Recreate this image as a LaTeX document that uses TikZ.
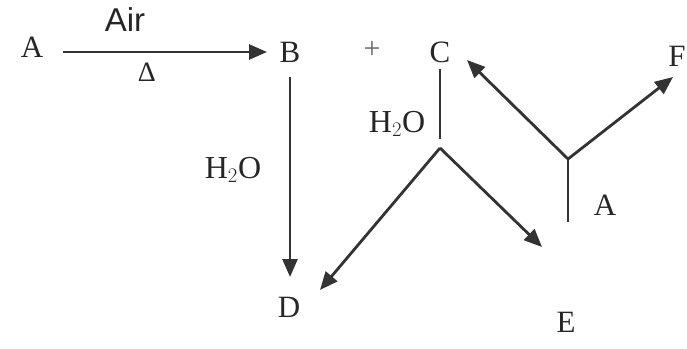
\documentclass[tikz,border=0pt]{standalone}
\usepackage{fontspec}
\setmainfont{Liberation Serif}
\newfontfamily\arialfont{Liberation Sans}
\usetikzlibrary{arrows.meta}
\begin{document}
\begin{tikzpicture}[x=1pt,y=-1pt,
  lbl/.style={inner sep=0pt,font=\fontsize{31}{34}\selectfont,text=black!85},
  ln/.style={draw=black!80,line width=2.8pt},
  arr/.style={ln,-{Triangle[length=18pt,width=15pt]}}]
\useasboundingbox (0,0) rectangle (687,348);
% labels
\node[lbl] (A1) at (32,47) {A};
\node[lbl] (B) at (290,52) {B};
\node[lbl,font=\fontsize{30}{34}\selectfont,text=black!60] (plus) at (372,50) {+};
\node[lbl] (C) at (440,52) {C};
\node[lbl] (F) at (677,56) {F};
\node[lbl] (D) at (289,307) {D};
\node[lbl] (E) at (566,322) {E};
\node[lbl] (A2) at (605,205) {A};
\node[lbl,font=\arialfont\fontsize{33}{36}\selectfont] (air) at (125,20) {Air};
\node[lbl,font=\fontsize{28}{32}\selectfont] (delta) at (147,72) {Δ};
\node[lbl,font=\fontsize{32}{35}\selectfont] (w1) at (233,170) {H$_2$O};
\node[lbl,font=\fontsize{32}{35}\selectfont] (w2) at (397,124) {H$_2$O};
% junctions and free ends
\coordinate (j1) at (440,148);
\coordinate (c1) at (440,139);
\coordinate (j2) at (568,159);
\coordinate (a2end) at (568,222);
\coordinate (dtip) at (320,290);
\coordinate (etip) at (542,247);
\coordinate (ctip) at (467,60);
\coordinate (ftip) at (673,77);
\coordinate (bstart) at (290,77);
\coordinate (dend) at (290,277);
\coordinate (astart) at (63,52);
\coordinate (bend) at (267,52);
% connectors
\draw[arr] (astart) -- (bend);
\draw[arr] (bstart) -- (dend);
\draw[ln,line width=2.2pt] (C.south) ++(0,6) -- (c1);
\draw[arr] (j1) -- (dtip);
\draw[arr] (j1) -- (etip);
\draw[arr] (j2) -- (ctip);
\draw[arr] (j2) -- (ftip);
\draw[ln,line width=2.2pt] (j2) -- (a2end);
\end{tikzpicture}
\end{document}
